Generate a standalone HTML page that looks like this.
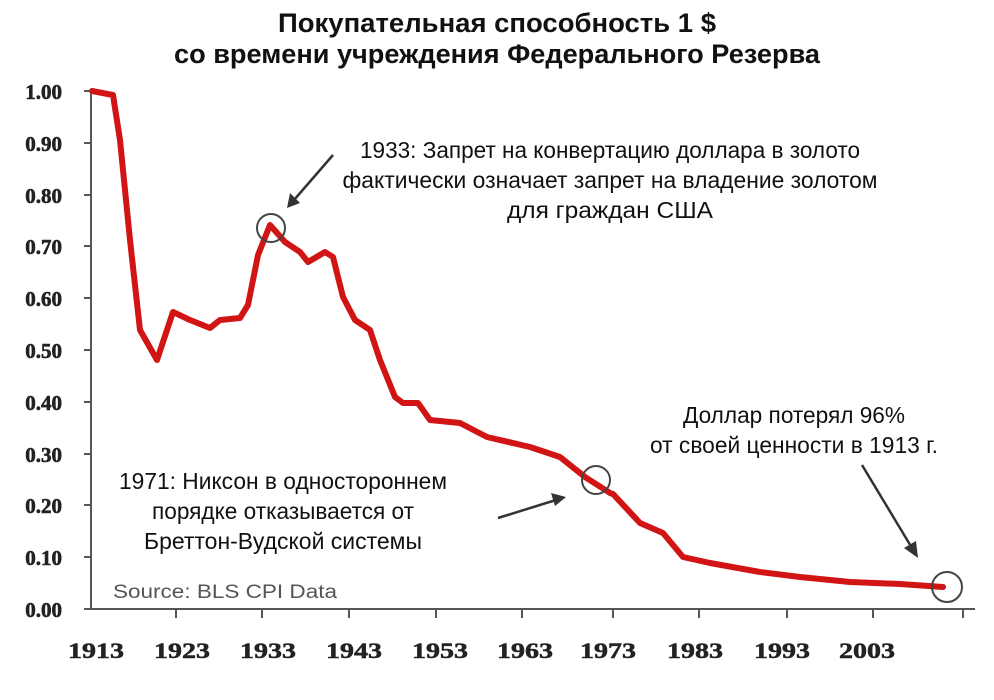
<!DOCTYPE html>
<html><head><meta charset="utf-8"><style>body{margin:0;background:#fff}svg{display:block}</style></head>
<body>
<svg width="994" height="700" viewBox="0 0 994 700" xmlns="http://www.w3.org/2000/svg" font-family="Liberation Sans, sans-serif">
<rect width="994" height="700" fill="#fff"/>
<g font-weight="bold" font-size="27" fill="#111" text-anchor="middle">
<text x="497" y="32" textLength="438" lengthAdjust="spacingAndGlyphs">Покупательная способность 1 $</text>
<text x="497" y="63" textLength="646" lengthAdjust="spacingAndGlyphs">со времени учреждения Федерального Резерва</text>
</g>
<g stroke="#555" stroke-width="2" fill="none">
<line x1="91" y1="90" x2="91" y2="610"/>
<line x1="84" y1="609" x2="975" y2="609"/>
</g>
<g stroke="#555" stroke-width="2">
<line x1="84" y1="91" x2="91" y2="91"/><line x1="84" y1="143" x2="91" y2="143"/><line x1="84" y1="195" x2="91" y2="195"/><line x1="84" y1="246" x2="91" y2="246"/><line x1="84" y1="298" x2="91" y2="298"/><line x1="84" y1="350" x2="91" y2="350"/><line x1="84" y1="402" x2="91" y2="402"/><line x1="84" y1="454" x2="91" y2="454"/><line x1="84" y1="505" x2="91" y2="505"/><line x1="84" y1="557" x2="91" y2="557"/>
<line x1="176" y1="609" x2="176" y2="618"/><line x1="262" y1="609" x2="262" y2="618"/><line x1="349" y1="609" x2="349" y2="618"/><line x1="436" y1="609" x2="436" y2="618"/><line x1="522" y1="609" x2="522" y2="618"/><line x1="613" y1="609" x2="613" y2="618"/><line x1="699" y1="609" x2="699" y2="618"/><line x1="787" y1="609" x2="787" y2="618"/><line x1="873" y1="609" x2="873" y2="618"/><line x1="963" y1="609" x2="963" y2="618"/>
</g>
<g font-weight="bold" font-size="21" fill="#222" stroke="#222" stroke-width="0.6" font-family="Liberation Serif, serif" text-anchor="end">
<text x="62" y="99">1.00</text><text x="62" y="151">0.90</text><text x="62" y="203">0.80</text><text x="62" y="254">0.70</text><text x="62" y="306">0.60</text><text x="62" y="358">0.50</text><text x="62" y="410">0.40</text><text x="62" y="462">0.30</text><text x="62" y="513">0.20</text><text x="62" y="565">0.10</text><text x="62" y="617">0.00</text>
</g>
<g font-weight="bold" font-size="22" fill="#222" stroke="#222" stroke-width="0.5" font-family="Liberation Serif, serif" text-anchor="middle">
<text x="96" y="658" textLength="56" lengthAdjust="spacingAndGlyphs">1913</text><text x="182" y="658" textLength="56" lengthAdjust="spacingAndGlyphs">1923</text><text x="268" y="658" textLength="56" lengthAdjust="spacingAndGlyphs">1933</text><text x="354" y="658" textLength="56" lengthAdjust="spacingAndGlyphs">1943</text><text x="440" y="658" textLength="56" lengthAdjust="spacingAndGlyphs">1953</text><text x="525" y="658" textLength="56" lengthAdjust="spacingAndGlyphs">1963</text><text x="608" y="658" textLength="56" lengthAdjust="spacingAndGlyphs">1973</text><text x="695" y="658" textLength="56" lengthAdjust="spacingAndGlyphs">1983</text><text x="782" y="658" textLength="56" lengthAdjust="spacingAndGlyphs">1993</text><text x="867" y="658" textLength="56" lengthAdjust="spacingAndGlyphs">2003</text>
</g>
<text x="113" y="598" font-size="19" fill="#555" textLength="224" lengthAdjust="spacingAndGlyphs">Source: BLS CPI Data</text>
<polyline fill="none" stroke="#d11414" stroke-width="6" stroke-linejoin="round" stroke-linecap="round" points="92,91 113,95 120,140 130,240 140,330 157,360 173,312 190,320 210,328 220,320 240,318 248,305 258,255 270,225 285,242 300,252 308,262 325,252 333,257 343,297 355,320 370,330 380,360 395,397 403,403 418,403 430,420 460,423 487,437 530,447 560,457 585,477 610,493 613,494 640,523 663,533 683,557 710,563 760,572 800,577 850,582 900,584 943,587"/>
<g fill="none" stroke="#444" stroke-width="2">
<circle cx="271" cy="228" r="14"/><circle cx="596" cy="480" r="14"/><circle cx="947" cy="587" r="15"/>
</g>
<g stroke="#333" stroke-width="2.5">
<line x1="333" y1="155" x2="294" y2="200"/><line x1="498" y1="518" x2="556" y2="500"/><line x1="862" y1="465" x2="912" y2="548"/>
</g>
<g fill="#333">
<polygon points="287,208 290,193 300,203"/><polygon points="566,497 551,493 555,506"/><polygon points="918,558 904,548 916,541"/>
</g>
<g font-size="23" fill="#111" text-anchor="middle">
<text x="610" y="158" textLength="500" lengthAdjust="spacingAndGlyphs">1933: Запрет на конвертацию доллара в золото</text>
<text x="610" y="188" textLength="535" lengthAdjust="spacingAndGlyphs">фактически означает запрет на владение золотом</text>
<text x="610" y="218" textLength="206" lengthAdjust="spacingAndGlyphs">для граждан США</text>
<text x="283" y="489" textLength="328" lengthAdjust="spacingAndGlyphs">1971: Никсон в одностороннем</text>
<text x="283" y="519" textLength="262" lengthAdjust="spacingAndGlyphs">порядке отказывается от</text>
<text x="283" y="549" textLength="278" lengthAdjust="spacingAndGlyphs">Бреттон-Вудской системы</text>
<text x="794" y="423" textLength="222" lengthAdjust="spacingAndGlyphs">Доллар потерял 96%</text>
<text x="794" y="453" textLength="288" lengthAdjust="spacingAndGlyphs">от своей ценности в 1913 г.</text>
</g>
</svg>
</body></html>
